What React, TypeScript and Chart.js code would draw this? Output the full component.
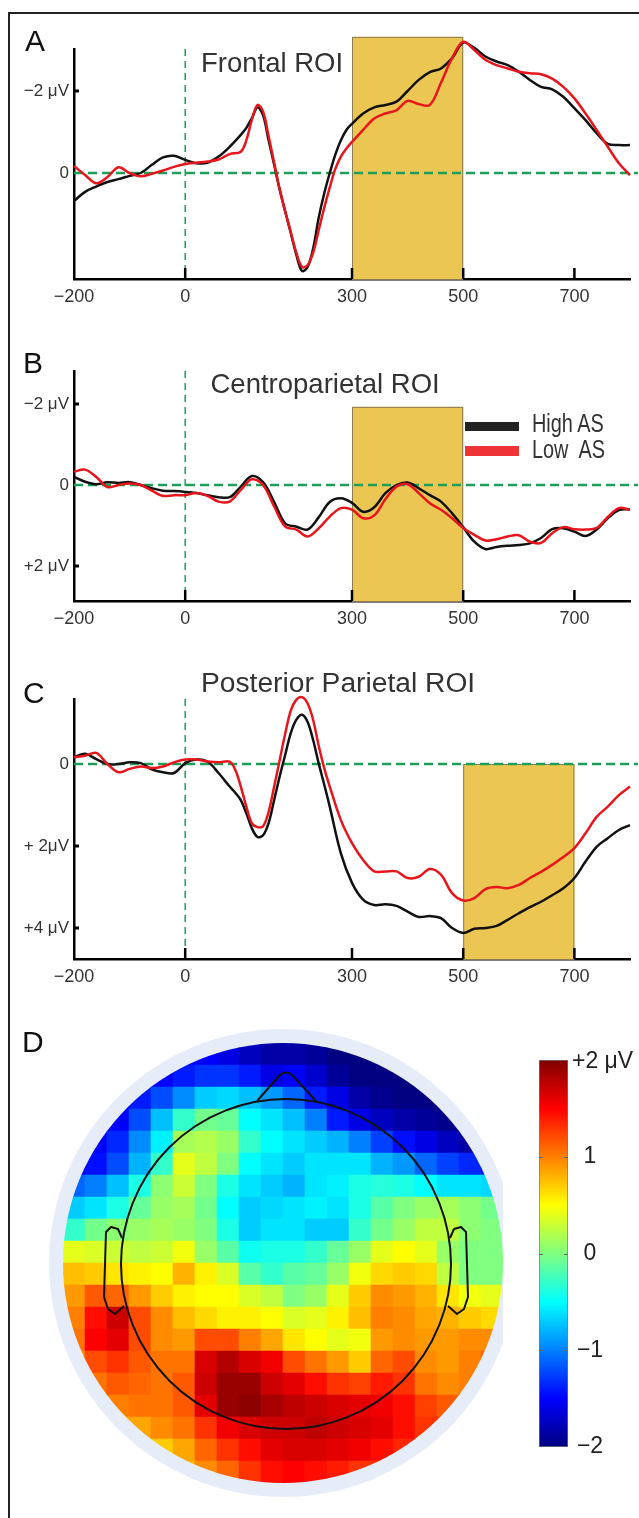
import React, { useEffect, useRef } from "react";
import { Chart, registerables } from "chart.js";
Chart.register(...registerables);

const FONT = '"Liberation Sans", Arial, Helvetica, sans-serif';
Chart.defaults.font.family = FONT;

const RED = "#E8161C";
const BLACK = "#111111";
const GREEN = "#1F9E58";
const GOLD = "#EBC653";

// ---------------- Panel A : Frontal ROI ----------------
const TIME_A = [-200, -180, -160, -140, -120, -100, -80, -60, -40, -20, 0, 20, 40, 60, 80, 100,
  110, 120, 130, 140, 150, 160, 170, 180, 190, 200, 210, 220, 230, 240, 250, 260, 270, 280, 290, 300,
  320, 340, 360, 380, 400, 420, 440, 460, 480, 500, 520, 540, 560, 580, 600, 620, 640, 660, 680, 700, 720, 740, 760, 780, 800];
const HIGH_A = [0.68, 0.46, 0.33, 0.22, 0.15, 0.07, 0.0, -0.2, -0.38, -0.42, -0.32, -0.24, -0.25, -0.4, -0.64, -0.93,
  -1.1, -1.34, -1.6, -1.41, -0.8, -0.2, 0.41, 0.94, 1.47, 2.0, 2.39, 2.3, 1.85, 1.1, 0.5, 0.0, -0.45, -0.8, -1.05, -1.2,
  -1.45, -1.6, -1.66, -1.74, -2.0, -2.27, -2.46, -2.55, -2.8, -3.18, -3.05, -2.84, -2.72, -2.63, -2.47, -2.27, -2.1, -2.04, -1.86, -1.58, -1.29, -0.97, -0.71, -0.68, -0.68];
const LOW_A = [-0.17, 0.05, 0.25, 0.1, -0.14, 0.0, 0.08, 0.02, -0.06, -0.15, -0.22, -0.25, -0.28, -0.33, -0.46, -0.52,
  -0.8, -1.3, -1.66, -1.5, -0.9, -0.25, 0.4, 0.95, 1.45, 1.95, 2.29, 2.25, 1.95, 1.4, 0.85, 0.35, -0.1, -0.4, -0.6, -0.76,
  -1.05, -1.33, -1.45, -1.53, -1.76, -1.68, -1.66, -2.2, -2.8, -3.2, -3.0, -2.76, -2.63, -2.55, -2.47, -2.43, -2.41, -2.3, -2.1, -1.82, -1.45, -1.05, -0.64, -0.24, 0.05];

// ---------------- Panel B : Centroparietal ROI ----------------
const TIME_B = [-200, -180, -160, -140, -120, -100, -80, -60, -40, -20, 0, 20, 40, 60, 80, 100, 120, 140, 160, 180,
  200, 220, 240, 260, 280, 300, 320, 340, 360, 380, 400, 420, 440, 460, 480, 500, 520, 540, 560, 580,
  600, 620, 640, 660, 680, 700, 720, 740, 760, 780, 800];
const HIGH_B = [-0.2, -0.08, -0.02, -0.07, -0.05, -0.07, 0.0, 0.08, 0.14, 0.15, 0.17, 0.2, 0.25, 0.3, 0.3, 0.04, -0.22, -0.07, 0.42, 0.95,
  1.03, 1.1, 0.8, 0.42, 0.33, 0.44, 0.66, 0.55, 0.2, 0.0, -0.06, 0.08, 0.25, 0.41, 0.7, 1.04, 1.4, 1.58, 1.53, 1.5,
  1.48, 1.44, 1.31, 1.09, 1.07, 1.15, 1.26, 1.1, 0.82, 0.62, 0.6];
const LOW_B = [-0.33, -0.38, -0.2, 0.05, 0.0, -0.04, 0.0, 0.14, 0.27, 0.25, 0.25, 0.2, 0.27, 0.41, 0.41, 0.12, -0.14, 0.0, 0.53, 1.03,
  1.1, 1.27, 1.07, 0.78, 0.57, 0.61, 0.82, 0.75, 0.35, 0.04, -0.02, 0.2, 0.45, 0.61, 0.82, 1.06, 1.23, 1.37, 1.34, 1.27,
  1.24, 1.4, 1.43, 1.19, 1.04, 1.09, 1.1, 1.06, 0.79, 0.57, 0.61];

// ---------------- Panel C : Posterior Parietal ROI ----------------
const TIME_C = [-200, -180, -160, -140, -120, -100, -80, -60, -40, -20, 0, 20, 40, 60, 80,
  90, 100, 110, 120, 130, 140, 150, 160, 170, 180, 190, 200, 210, 220, 230, 240, 250, 260,
  280, 300, 320, 340, 360, 380, 400, 420, 440, 460, 480, 500, 520, 540, 560, 580, 600, 620, 640, 660, 680, 700, 720, 740, 760, 780, 800];
const HIGH_C = [-0.17, -0.25, -0.12, 0.0, 0.0, -0.04, -0.02, 0.13, 0.2, 0.22, -0.02, -0.11, -0.06, 0.22, 0.55,
  0.7, 0.88, 1.2, 1.57, 1.78, 1.74, 1.44, 0.88, 0.3, -0.23, -0.76, -1.08, -1.2, -1.03, -0.59, -0.02, 0.5, 1.04,
  2.18, 2.9, 3.31, 3.44, 3.42, 3.46, 3.6, 3.73, 3.71, 3.76, 4.0, 4.12, 4.02, 4.0, 3.95, 3.8, 3.64, 3.49, 3.36, 3.2, 3.03, 2.78, 2.38, 2.02, 1.81, 1.61, 1.49];
const LOW_C = [-0.17, -0.2, -0.27, 0.0, 0.2, 0.12, 0.06, 0.1, 0.06, -0.04, -0.11, -0.11, -0.06, -0.04, -0.06,
  0.14, 0.55, 1.04, 1.45, 1.54, 1.52, 1.17, 0.55, -0.1, -0.75, -1.31, -1.57, -1.63, -1.48, -1.08, -0.45, 0.1, 0.55,
  1.37, 1.93, 2.34, 2.62, 2.62, 2.62, 2.78, 2.75, 2.56, 2.7, 3.15, 3.33, 3.27, 3.05, 3.0, 3.03, 2.95, 2.78, 2.63, 2.46, 2.27, 2.05, 1.69, 1.29, 1.04, 0.76, 0.55];

// ---------------- axes ----------------
const X_TICKS = [-200, 0, 300, 500, 700];
const X_MARKS = [0, 300, 500, 700];
const Y_TICKS_A = [-2, 0];
const Y_LABELS_A = ["\u22122 \u03bcV", "0"];
const Y_TICKS_B = [-2, 0, 2];
const Y_LABELS_B = ["\u22122 \u03bcV", "0", "+2 \u03bcV"];
const Y_TICKS_C = [0, 2, 4];
const Y_LABELS_C = ["0", "+ 2\u03bcV", "+4 \u03bcV"];
const WINDOW_A = [300, 500];
const WINDOW_B = [300, 500];
const WINDOW_C = [500, 700];
const SERIES_NAMES = ["High AS", "Low  AS"];

// ---------------- Panel D : topographic map (rows top->bottom, cols left->right) ----------------
const TOPO_VALUES: number[][] = [
  [-1.5, -1.5, -1.5, -1.5, -1.5, -1.5, -1.5, -1.6, -1.75, -1.85, -1.85, -1.9, -2.0, -2.0, -2.0, -2.0, -2.0, -2.0, -2.0, -2.0],
  [-1.5, -1.5, -1.5, -1.5, -1.5, -1.4, -1.3, -1.3, -1.4, -1.6, -1.5, -1.7, -1.9, -2.0, -2.0, -2.0, -2.0, -2.0, -2.0, -2.0],
  [-1.5, -1.5, -1.5, -1.4, -1.2, -0.95, -0.7, -0.65, -0.75, -0.9, -1.1, -1.4, -1.6, -1.85, -1.95, -2.0, -2.0, -2.0, -2.0, -2.0],
  [-1.5, -1.5, -1.5, -1.2, -0.75, -0.3, -0.05, -0.1, -0.5, -0.6, -0.75, -1.0, -1.4, -1.6, -1.75, -1.85, -1.9, -1.95, -2.0, -2.0],
  [-1.5, -1.5, -1.35, -0.95, -0.55, 0.15, 0.2, 0.1, -0.3, -0.5, -0.6, -0.7, -0.8, -1.0, -1.25, -1.45, -1.6, -1.75, -1.85, -1.85],
  [-1.5, -1.45, -1.2, -0.8, -0.3, 0.4, 0.25, 0.0, -0.5, -0.6, -0.7, -0.6, -0.6, -0.6, -0.8, -0.9, -1.1, -1.25, -1.35, -1.4],
  [-1.1, -1.0, -0.75, -0.4, 0.05, 0.3, 0.0, -0.4, -0.6, -0.7, -0.8, -0.6, -0.55, -0.4, -0.35, -0.4, -0.5, -0.6, -0.6, -0.65],
  [-0.7, -0.6, -0.4, -0.1, 0.1, 0.15, -0.05, -0.5, -0.7, -0.65, -0.6, -0.55, -0.6, -0.4, -0.15, 0.0, 0.1, 0.15, 0.05, -0.05],
  [-0.3, -0.05, 0.05, 0.1, 0.15, 0.1, 0.0, -0.4, -0.7, -0.6, -0.6, -0.7, -0.7, -0.3, -0.05, 0.1, 0.25, 0.25, 0.05, 0.0],
  [0.4, 0.35, 0.3, 0.25, 0.3, 0.45, 0.1, -0.15, -0.45, -0.4, -0.4, -0.3, -0.1, 0.1, 0.4, 0.5, 0.4, 0.1, 0.0, 0.0],
  [0.75, 0.7, 0.6, 0.55, 0.5, 0.8, 0.55, 0.35, -0.15, -0.3, -0.15, -0.1, 0.1, 0.45, 0.65, 0.7, 0.65, 0.25, 0.0, 0.0],
  [0.9, 1.15, 1.1, 0.9, 0.7, 0.55, 0.5, 0.5, 0.35, 0.25, 0.0, 0.1, 0.4, 0.7, 0.95, 0.9, 0.8, 0.6, 0.45, 0.4],
  [1.0, 1.45, 1.7, 1.2, 0.95, 0.75, 0.65, 0.55, 0.55, 0.5, 0.35, 0.4, 0.55, 0.75, 1.0, 0.95, 0.85, 0.8, 0.7, 0.65],
  [1.05, 1.5, 1.6, 1.2, 0.95, 0.9, 1.2, 1.2, 1.0, 0.85, 0.6, 0.5, 0.4, 0.45, 0.9, 0.95, 0.9, 0.9, 0.95, 0.95],
  [0.95, 1.2, 1.3, 1.15, 1.05, 1.05, 1.65, 1.8, 1.65, 1.55, 1.2, 1.05, 0.9, 0.7, 1.1, 1.2, 0.95, 0.9, 1.0, 1.1],
  [1.0, 1.05, 1.15, 1.1, 1.05, 1.15, 1.7, 1.9, 1.9, 1.7, 1.6, 1.45, 1.3, 1.25, 1.4, 1.3, 1.05, 0.95, 1.0, 1.0],
  [1.0, 1.0, 1.0, 1.05, 1.05, 1.15, 1.6, 1.9, 1.95, 1.85, 1.75, 1.7, 1.65, 1.6, 1.55, 1.45, 1.25, 1.15, 1.15, 1.15],
  [0.85, 0.85, 0.85, 0.85, 0.95, 1.05, 1.3, 1.55, 1.65, 1.7, 1.7, 1.75, 1.7, 1.65, 1.6, 1.45, 1.3, 1.3, 1.3, 1.3],
  [0.7, 0.7, 0.7, 0.7, 0.7, 0.85, 1.1, 1.3, 1.45, 1.6, 1.65, 1.65, 1.6, 1.55, 1.45, 1.35, 1.35, 1.35, 1.35, 1.35],
  [0.7, 0.7, 0.7, 0.7, 0.7, 0.8, 0.95, 1.1, 1.3, 1.45, 1.5, 1.45, 1.4, 1.3, 1.3, 1.3, 1.3, 1.3, 1.3, 1.3],
];
const CB_MIN = -2;
const CB_MAX = 2;
const CB_TICKS = [2, 1, 0, -1, -2];
const CB_LABELS = ["+2 \u03bcV", "1", "0", "\u22121", "\u22122"];

// ---------------- helpers ----------------
function jet(v: number): string {
  const t = Math.max(0, Math.min(1, (v - CB_MIN) / (CB_MAX - CB_MIN)));
  const f = (x: number) => Math.round(255 * Math.max(0, Math.min(1, 1.5 - Math.abs(x))));
  return `rgb(${f(4 * t - 3)},${f(4 * t - 2)},${f(4 * t - 1)})`;
}
const toXY = (t: number[], v: number[]) => t.map((x, i) => ({ x, y: v[i] }));
const fmtX = (v: number) => (v < 0 ? "\u2212" + Math.abs(v) : String(v));

type PanelProps = {
  top: number; height: number; padTop: number; xAxisH: number;
  yMin: number; yMax: number;
  time: number[]; high: number[]; low: number[];
  yTicks: number[]; yLabels: string[];
  win: number[]; winTop: number;
};

function ErpPanel(p: PanelProps) {
  const ref = useRef<HTMLCanvasElement>(null);
  useEffect(() => {
    const deco = {
      id: "deco",
      beforeDatasetsDraw(chart: any) {
        const { ctx, chartArea: ca, scales } = chart;
        const x = scales.x, y = scales.y;
        ctx.save();
        const x0 = x.getPixelForValue(p.win[0]);
        const x1 = x.getPixelForValue(p.win[1]);
        const yt = y.getPixelForValue(p.winTop);
        ctx.fillStyle = GOLD;
        ctx.fillRect(x0, yt, x1 - x0, ca.bottom - yt);
        ctx.strokeStyle = "#8a7a4c";
        ctx.lineWidth = 1;
        ctx.strokeRect(x0 + 0.5, yt + 0.5, x1 - x0 - 1, ca.bottom - yt);
        ctx.strokeStyle = GREEN;
        const y0 = y.getPixelForValue(0);
        ctx.setLineDash([9, 5]);
        ctx.lineWidth = 2.5;
        ctx.beginPath(); ctx.moveTo(ca.left, y0); ctx.lineTo(ca.right + 8, y0); ctx.stroke();
        const xz = x.getPixelForValue(0);
        ctx.setLineDash([7, 5]);
        ctx.lineWidth = 1.5;
        ctx.beginPath(); ctx.moveTo(xz, ca.top); ctx.lineTo(xz, ca.bottom); ctx.stroke();
        ctx.restore();
      },
      afterDraw(chart: any) {
        const { ctx, chartArea: ca, scales } = chart;
        ctx.save();
        ctx.strokeStyle = "#000";
        ctx.lineWidth = 2.5;
        X_MARKS.forEach((v) => {
          const px = scales.x.getPixelForValue(v);
          ctx.beginPath(); ctx.moveTo(px, ca.bottom); ctx.lineTo(px, ca.bottom - 11); ctx.stroke();
        });
        ctx.lineWidth = 3;
        p.yTicks.forEach((v) => {
          if (v === 0) return;
          const py = scales.y.getPixelForValue(v);
          ctx.beginPath(); ctx.moveTo(ca.left, py); ctx.lineTo(ca.left + 5, py); ctx.stroke();
        });
        ctx.restore();
      },
    };
    const chart = new Chart(ref.current as HTMLCanvasElement, {
      type: "line",
      data: {
        datasets: [
          { label: SERIES_NAMES[1], data: toXY(p.time, p.low), borderColor: RED, borderWidth: 2.5, pointRadius: 0, tension: 0.35, clip: false as any, fill: false },
          { label: SERIES_NAMES[0], data: toXY(p.time, p.high), borderColor: BLACK, borderWidth: 2.5, pointRadius: 0, tension: 0.35, clip: false as any, fill: false },
        ],
      },
      options: {
        animation: false,
        responsive: false,
        maintainAspectRatio: false,
        devicePixelRatio: 1,
        events: [],
        layout: { padding: { left: 0, right: 9, top: p.padTop, bottom: 0 } },
        plugins: { legend: { display: false }, tooltip: { enabled: false } },
        scales: {
          x: {
            type: "linear", min: -200, max: 800, z: 1,
            grid: { display: false, drawTicks: false },
            border: { display: true, color: "#000", width: 2.5 },
            ticks: { padding: 7, color: "#333", autoSkip: false, maxRotation: 0, font: { size: 18, family: FONT }, callback: (v: any) => fmtX(Number(v)) },
            afterBuildTicks: (s: any) => { s.ticks = X_TICKS.map((v) => ({ value: v })); },
            afterFit: (s: any) => { s.height = p.xAxisH; },
          },
          y: {
            type: "linear", min: p.yMin, max: p.yMax, reverse: true, z: 1,
            grid: { display: false, drawTicks: false },
            border: { display: true, color: "#000", width: 2.5 },
            ticks: {
              padding: 5, color: "#333", autoSkip: false, font: { size: 17, family: FONT },
              callback: (v: any) => { const i = p.yTicks.indexOf(Number(v)); return i >= 0 ? p.yLabels[i] : ""; },
            },
            afterBuildTicks: (s: any) => { s.ticks = p.yTicks.map((v) => ({ value: v })); },
            afterFit: (s: any) => { s.width = 74; },
          },
        },
      } as any,
      plugins: [deco],
    });
    return () => chart.destroy();
  }, []);
  return (
    <canvas ref={ref} width={639} height={p.height}
      style={{ position: "absolute", left: 0, top: p.top, width: 639, height: p.height, display: "block" }} />
  );
}

function TopoMap() {
  const ref = useRef<HTMLCanvasElement>(null);
  useEffect(() => {
    const cells: { x: number; y: number; v: number }[] = [];
    TOPO_VALUES.forEach((row, i) => row.forEach((v, j) => cells.push({ x: j + 0.5, y: i + 0.5, v })));
    const head = {
      id: "head",
      beforeDatasetsDraw(chart: any) {
        const { ctx, chartArea: ca } = chart;
        const cx = (ca.left + ca.right) / 2, cy = (ca.top + ca.bottom) / 2, R = (ca.right - ca.left) / 2;
        ctx.save();
        ctx.beginPath(); ctx.rect(0, 0, ca.right, chart.height); ctx.clip();
        ctx.fillStyle = "#E7EDF8";
        ctx.beginPath(); ctx.arc(cx, cy, R + 14, 0, Math.PI * 2); ctx.fill();
        ctx.restore();
        ctx.save();
        ctx.beginPath(); ctx.arc(cx, cy, R, 0, Math.PI * 2); ctx.clip();
      },
      afterDatasetsDraw(chart: any) {
        const { ctx, chartArea: ca } = chart;
        ctx.restore();
        const cx = (ca.left + ca.right) / 2 + 3, cy = (ca.top + ca.bottom) / 2 + 1;
        const r = ((ca.right - ca.left) / 2) * 0.75;
        ctx.save();
        ctx.strokeStyle = "#111";
        ctx.lineWidth = 2;
        ctx.lineJoin = "round";
        ctx.beginPath(); ctx.arc(cx, cy, r, 0, Math.PI * 2); ctx.stroke();
        // nose
        ctx.beginPath();
        ctx.moveTo(cx - 29, cy - 163);
        ctx.lineTo(cx - 7, cy - 188);
        ctx.quadraticCurveTo(cx, cy - 195, cx + 7, cy - 188);
        ctx.lineTo(cx + 30, cy - 163);
        ctx.stroke();
        // ears
        const ear = [[-164, -26], [-168, -35], [-175, -37], [-180, -32], [-182, 33], [-178, 45], [-171, 50], [-162, 42]];
        [1, -1].forEach((s) => {
          ctx.beginPath();
          ear.forEach(([ex, ey], k) => {
            const px = cx + s * ex, py = cy + ey;
            if (k === 0) ctx.moveTo(px, py); else ctx.lineTo(px, py);
          });
          ctx.stroke();
        });
        ctx.restore();
      },
    };
    const chart = new Chart(ref.current as HTMLCanvasElement, {
      type: "scatter",
      data: {
        datasets: [{
          data: cells.map((c) => ({ x: c.x, y: c.y })),
          pointStyle: "rect",
          pointRadius: 16,
          pointBorderWidth: 0,
          borderWidth: 0,
          pointBackgroundColor: cells.map((c) => jet(c.v)),
        }],
      },
      options: {
        animation: false, responsive: false, maintainAspectRatio: false, devicePixelRatio: 1, events: [],
        layout: { padding: { left: 63, right: 136, top: 53, bottom: 35 } },
        plugins: { legend: { display: false }, tooltip: { enabled: false } },
        scales: {
          x: { type: "linear", min: 0, max: 20, display: false },
          y: { type: "linear", min: 0, max: 20, reverse: true, display: false },
        },
      } as any,
      plugins: [head],
    });
    return () => chart.destroy();
  }, []);
  return <canvas ref={ref} width={639} height={528} style={{ position: "absolute", left: 0, top: 990, width: 639, height: 528, display: "block" }} />;
}

function ColorBar() {
  const ref = useRef<HTMLCanvasElement>(null);
  useEffect(() => {
    const labels = {
      id: "cblabels",
      afterDraw(chart: any) {
        const { ctx, chartArea: ca, scales } = chart;
        ctx.save();
        ctx.strokeStyle = "#666";
        ctx.lineWidth = 1;
        CB_TICKS.forEach((v) => {
          if (v === CB_MAX || v === CB_MIN) return;
          const py = Math.round(scales.y.getPixelForValue(v)) + 0.5;
          ctx.beginPath(); ctx.moveTo(ca.left, py); ctx.lineTo(ca.left + 4, py); ctx.stroke();
          ctx.beginPath(); ctx.moveTo(ca.right - 4, py); ctx.lineTo(ca.right, py); ctx.stroke();
        });
        ctx.fillStyle = "#222";
        ctx.font = `23px ${FONT}`;
        ctx.textBaseline = "middle";
        CB_TICKS.forEach((v, i) => {
          const py = scales.y.getPixelForValue(v);
          if (i === 0) { ctx.textAlign = "left"; ctx.fillText(CB_LABELS[i], ca.right + 4, py + 2); }
          else { ctx.textAlign = "center"; ctx.fillText(CB_LABELS[i], ca.right + 22, py); }
        });
        ctx.restore();
      },
    };
    const chart = new Chart(ref.current as HTMLCanvasElement, {
      type: "bar",
      data: {
        labels: ["\u03bcV"],
        datasets: [{
          data: [[CB_MIN, CB_MAX]] as any,
          barPercentage: 1, categoryPercentage: 1,
          borderColor: "#777", borderWidth: 1, borderSkipped: false,
          backgroundColor: (c: any) => {
            const ca = c.chart.chartArea;
            if (!ca) return "#888";
            const g = c.chart.ctx.createLinearGradient(0, ca.bottom, 0, ca.top);
            for (let k = 0; k <= 16; k++) g.addColorStop(k / 16, jet(CB_MIN + ((CB_MAX - CB_MIN) * k) / 16));
            return g;
          },
        }],
      },
      options: {
        animation: false, responsive: false, maintainAspectRatio: false, devicePixelRatio: 1, events: [],
        layout: { padding: { left: 39, right: 71, top: 30, bottom: 23 } },
        plugins: { legend: { display: false }, tooltip: { enabled: false } },
        scales: {
          x: { display: false },
          y: { type: "linear", min: CB_MIN, max: CB_MAX, display: false },
        },
      } as any,
      plugins: [labels],
    });
    return () => chart.destroy();
  }, []);
  return <canvas ref={ref} width={139} height={440} style={{ position: "absolute", left: 500, top: 1030, width: 139, height: 440, display: "block" }} />;
}

function Txt(props: { x: number; base: number; size: number; text: string; color?: string; sx?: number }) {
  const { x, base, size, text, color, sx } = props;
  return (
    <div style={{
      position: "absolute", left: x, top: base - 0.8465 * size, fontSize: size, lineHeight: `${size}px`,
      fontFamily: FONT, color: color || "#111", whiteSpace: "pre",
      transform: sx ? `scaleX(${sx})` : undefined, transformOrigin: "left top",
    }}>{text}</div>
  );
}

export default function App() {
  return (
    <div style={{ position: "absolute", left: 0, top: 0, width: 639, height: 1518, overflow: "hidden", background: "#fff" }}>
      <div style={{ position: "absolute", left: 8, top: 12, width: 660, height: 1560, border: "2px solid #222", boxSizing: "border-box" }} />
      <ErpPanel top={0} height={320} padTop={49} xAxisH={41} yMin={-3.024} yMax={2.585}
        time={TIME_A} high={HIGH_A} low={LOW_A} yTicks={Y_TICKS_A} yLabels={Y_LABELS_A} win={WINDOW_A} winTop={-3.32} />
      <ErpPanel top={320} height={310} padTop={51} xAxisH={29} yMin={-2.815} yMax={2.864}
        time={TIME_B} high={HIGH_B} low={LOW_B} yTicks={Y_TICKS_B} yLabels={Y_LABELS_B} win={WINDOW_B} winTop={-1.93} />
      <ErpPanel top={630} height={360} padTop={69} xAxisH={31} yMin={-1.585} yMax={4.756}
        time={TIME_C} high={HIGH_C} low={LOW_C} yTicks={Y_TICKS_C} yLabels={Y_LABELS_C} win={WINDOW_C} winTop={0} />
      <TopoMap />
      <ColorBar />

      <Txt x={25} base={51} size={30} text="A" />
      <Txt x={23} base={373} size={30} text="B" />
      <Txt x={23} base={703} size={30} text="C" />
      <Txt x={22} base={1052} size={30} text="D" />

      <Txt x={201} base={72} size={27.5} text="Frontal ROI" color="#333" />
      <Txt x={210.5} base={393} size={27.5} text="Centroparietal ROI" color="#333" />
      <Txt x={201} base={692} size={28.2} text="Posterior Parietal ROI" color="#333" />

      <div style={{ position: "absolute", left: 465, top: 422, width: 54, height: 9, background: "#222" }} />
      <div style={{ position: "absolute", left: 465, top: 446, width: 54, height: 10, background: "#EE3336" }} />
      <Txt x={532} base={433} size={25.5} text={SERIES_NAMES[0]} color="#333" sx={0.78} />
      <Txt x={532} base={459} size={25.5} text={SERIES_NAMES[1]} color="#333" sx={0.78} />
    </div>
  );
}
